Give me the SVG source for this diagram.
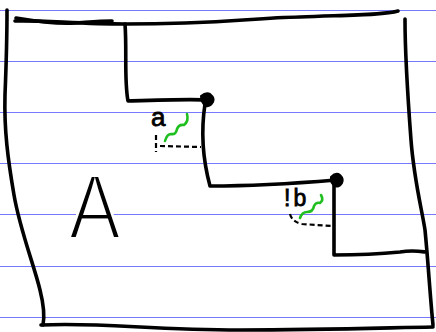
<svg xmlns="http://www.w3.org/2000/svg" width="436" height="332" viewBox="0 0 436 332">
<style>
.rule{stroke:#7878ff;stroke-width:1;fill:none}
.ink{stroke:#000;stroke-width:3.6;fill:none;stroke-linecap:round;stroke-linejoin:round}
.dash{stroke:#000;stroke-width:2.2;fill:none;stroke-dasharray:5 3}
.sq{stroke:#1fbf1f;stroke-width:2.6;fill:none;stroke-linecap:round;stroke-linejoin:round}
.lbl{font-family:"Liberation Sans",Arial,sans-serif;fill:#000}
</style>
<rect width="436" height="332" fill="#fff"/>
<g id="rules">
<line class="rule" x1="0" y1="10.5" x2="436" y2="10.5"/>
<line class="rule" x1="0" y1="61.5" x2="436" y2="61.5"/>
<line class="rule" x1="0" y1="112.5" x2="436" y2="112.5"/>
<line class="rule" x1="0" y1="163.5" x2="436" y2="163.5"/>
<line class="rule" x1="0" y1="214.5" x2="436" y2="214.5"/>
<line class="rule" x1="0" y1="266.5" x2="436" y2="266.5"/>
<line class="rule" x1="0" y1="317.5" x2="436" y2="317.5"/>
</g>
<g id="connectors">
<path class="ink" d="M7,10 C7,40 6,70 5,95 C4,130 8,160 14,195 C20,230 34,265 40,290 C45,310 44,320 43,325"/>
<path class="ink" d="M41,325 C100,322 150,330 240,330 C320,330 380,328 433,327"/>
<path class="ink" d="M405,19 C405,60 408,100 411,140 C414,180 422,210 425,230 C428,260 430,295 433,325"/>
<path class="ink" d="M15,21 C40,20 80,24 125,24 C220,24 250,18 300,17 C350,15 385,15 398,11"/>
<path class="ink" d="M16,18 C40,22 60,24 75,23 C90,22 100,21 112,21"/>
<path class="ink" d="M125,24 C127,50 124,80 128,101 C160,100 190,99 205,100"/>
<path class="ink" d="M205,104 C201,130 203,160 210,186 C250,186 300,183 336,180"/>
<path class="ink" d="M334,184 C334,210 334,230 334,255 C360,255 380,254 400,252 C412,250 418,251 425,252"/>
<path d="M201,96 Q206,92 210,94 Q215,98 213,102 Q210,107 206,106 Q201,103 201,96 Z" fill="#000" stroke="#000" stroke-width="2" stroke-linejoin="round"/>
<path d="M331,177 Q336,172 340,175 Q344,179 342,183 Q339,188 335,186 Q330,183 331,177 Z" fill="#000" stroke="#000" stroke-width="2" stroke-linejoin="round"/>
</g>
<g id="label-a">
<text class="lbl" x="151" y="126" font-size="26" stroke="#000" stroke-width="0.8">a</text>
<path class="sq" d="M165,141 Q167,134 171,134 Q176,135 177,129 Q179,124 184,125 Q189,121 187,114"/>
<path class="dash" d="M156,135 L156,152"/>
<path class="dash" d="M160,146 L201,147"/>
</g>
<g id="label-b">
<text class="lbl" x="284" y="206" font-size="23" letter-spacing="3" stroke="#000" stroke-width="0.8">!b</text>
<path class="sq" d="M300,218 Q302,212 307,212 Q313,212 314,206 Q316,202 320,203 Q324,200 321,195"/>
<path class="dash" d="M290,214 Q292,222 302,224 L332,226"/>
</g>
<g id="node-A">
<text class="lbl" transform="translate(69,238) scale(0.86,1)" font-size="90" stroke="#fff" stroke-width="3">A</text>
</g>
</svg>
